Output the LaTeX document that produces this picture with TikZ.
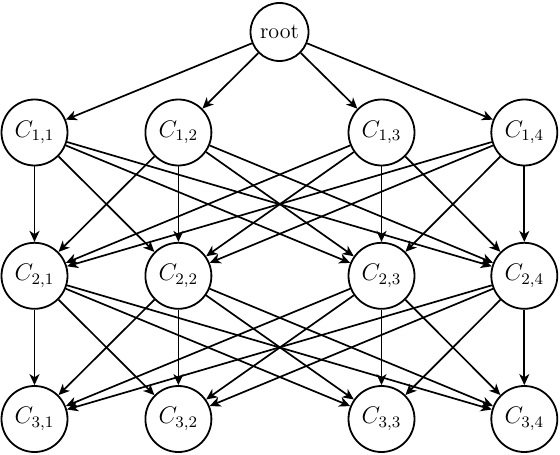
\documentclass[tikz,border=0pt]{standalone}
\usetikzlibrary{arrows.meta}
\begin{document}
\begin{tikzpicture}[x=0.5pt,y=-0.5pt,
  cnode/.style={circle,draw,line width=0.9pt,minimum size=33pt,inner sep=0pt,font=\fontsize{11.5}{13}\selectfont},
  rnode/.style={circle,draw,line width=0.9pt,minimum size=29pt,inner sep=0pt,font=\fontsize{11}{13}\selectfont},
  edge/.style={line width=0.85pt,-{Stealth[length=5.5pt,width=5pt,inset=1.6pt]}}]
\useasboundingbox (0,0) rectangle (560,454);
\node[rnode] (r) at (279.5,32) {root};
\foreach \i/\y in {1/132.5,2/275.8,3/419}{
  \foreach \j/\x in {1/34.5,2/178.4,3/381.5,4/524.3}{
    \node[cnode] (c\i\j) at (\x,\y) {$C_{\i,\j}$};
  }
}
\foreach \j in {1,...,4}{\draw[edge] (r) -- (c1\j);}
\foreach \i/\n in {1/2,2/3}{
  \foreach \a in {1,...,4}{
    \foreach \b in {1,...,4}{
      \draw[edge] (c\i\a) -- (c\n\b);
    }
  }
}
\end{tikzpicture}
\end{document}
